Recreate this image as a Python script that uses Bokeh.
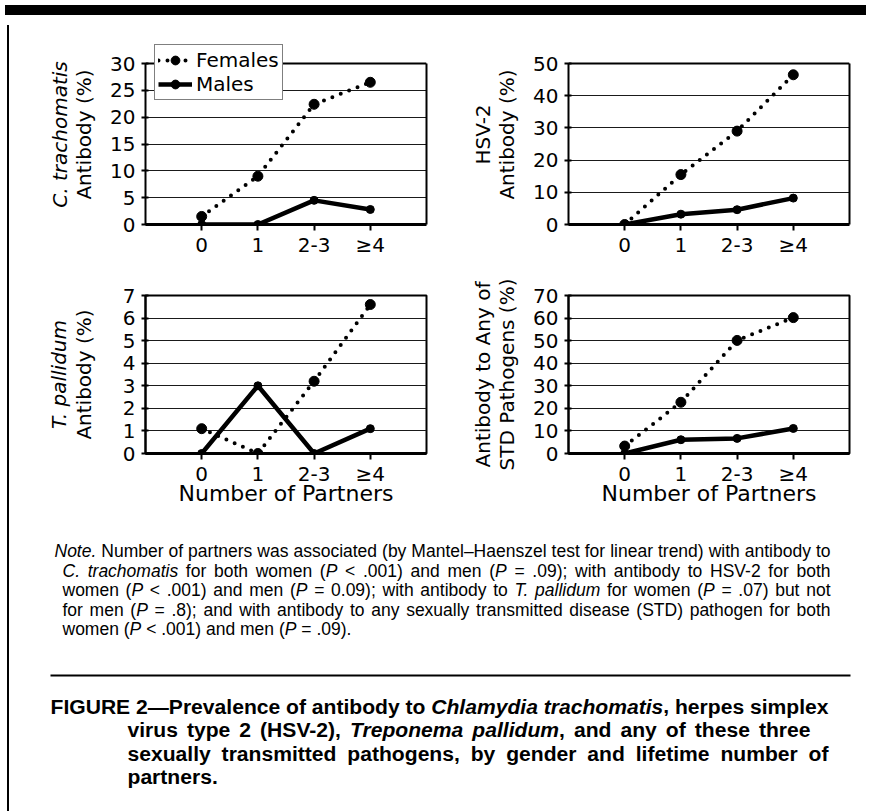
import os
import glob
from bokeh.plotting import figure
from bokeh.models import (Range1d, FactorRange, LinearAxis, FixedTicker, SingleIntervalTicker,
                          Legend, LegendItem, Div, Spacer, ColumnDataSource, Span)
from bokeh.layouts import column, row
from bokeh.core.properties import value
from bokeh.embed import file_html
from bokeh.resources import INLINE

# ---------------- data ----------------
partners = ["0", "1", "2-3", "≥4"]

ct_females = [1.5, 9.0, 22.4, 26.5]
ct_males = [0.0, 0.0, 4.5, 2.8]
hsv_females = [0.0, 15.5, 29.0, 46.5]
hsv_males = [0.0, 3.2, 4.6, 8.2]
tp_females = [1.1, 0.0, 3.2, 6.6]
tp_males = [0.0, 3.0, 0.0, 1.1]
any_females = [3.3, 22.7, 50.1, 60.2]
any_males = [0.0, 6.1, 6.7, 11.1]

ct_ymax, ct_step = 30, 5
hsv_ymax, hsv_step = 50, 10
tp_ymax, tp_step = 7, 1
any_ymax, any_step = 70, 10

legend_labels = ["Females", "Males"]
x_title = "Number of Partners"

note_lines = [
    [("Note.", "italic"),
     (" Number of partners was associated (by Mantel\u2013Haenszel test for linear trend) with antibody to", "normal")],
    [("C. trachomatis", "italic"), (" for both women (", "normal"), ("P", "italic"),
     (" < .001) and men (", "normal"), ("P", "italic"),
     (" = .09); with antibody to HSV-2 for both", "normal")],
    [("women (", "normal"), ("P", "italic"), (" < .001) and men (", "normal"), ("P", "italic"),
     (" = 0.09); with antibody to ", "normal"), ("T. pallidum", "italic"),
     (" for women (", "normal"), ("P", "italic"), (" = .07) but not", "normal")],
    [("for men (", "normal"), ("P", "italic"),
     (" = .8); and with antibody to any sexually transmitted disease (STD) pathogen for both", "normal")],
    [("women (", "normal"), ("P", "italic"), (" < .001) and men (", "normal"), ("P", "italic"),
     (" = .09).", "normal")],
]

caption_lines = [
    [("FIGURE 2\u2014Prevalence of antibody to ", "bold"), ("Chlamydia trachomatis", "bold italic"),
     (", herpes simplex", "bold")],
    [("virus type 2 (HSV-2), ", "bold"), ("Treponema pallidum", "bold italic"),
     (", and any of these three", "bold")],
    [("sexually transmitted pathogens, by gender and lifetime number of", "bold")],
    [("partners.", "bold")],
]

# ---------------- styling constants ----------------
CHART_FONT = "DejaVu Sans"
TEXT_FONT = "Liberation Sans"

# ---------------- text measurement ----------------
FONT_FILES = {
    "normal": "LiberationSans-Regular.ttf",
    "italic": "LiberationSans-Italic.ttf",
    "bold": "LiberationSans-Bold.ttf",
    "bold italic": "LiberationSans-BoldItalic.ttf",
}
_fonts = {}
try:
    from PIL import ImageFont
    for style, fname in FONT_FILES.items():
        path = None
        for base in ["/usr/share/fonts", "/usr/local/share/fonts", os.path.expanduser("~/.fonts")]:
            hits = glob.glob(os.path.join(base, "**", fname), recursive=True)
            if hits:
                path = hits[0]
                break
        if path:
            _fonts[style] = ImageFont.truetype(path, 200)
except Exception:
    _fonts = {}


def text_width(text, style, size):
    f = _fonts.get(style)
    if f is not None:
        return f.getlength(text) * size / 200.0
    factor = 0.55 if "bold" in style else 0.5
    return len(text) * size * factor


def natural_width(segs, size=1.0):
    return sum(text_width(t, s, size) for t, s in segs)


def words_of(segs):
    """Split styled runs into words; a word is a list of [text, style] runs."""
    words, cur = [], []
    for text, style in segs:
        for ch in text:
            if ch == " ":
                if cur:
                    words.append(cur)
                    cur = []
            elif cur and cur[-1][1] == style:
                cur[-1][0] += ch
            else:
                cur.append([ch, style])
    if cur:
        words.append(cur)
    return words


def layout_line(segs, x0, y, size, x1=None):
    """Place a line of styled runs; if x1 is given, spread the words to end at x1."""
    ws = words_of(segs)
    wwidths = [sum(text_width(t, s, size) for t, s in w) for w in ws]
    space = text_width(" ", segs[0][1], size)
    if x1 is not None and len(ws) > 1:
        gap = (x1 - x0 - sum(wwidths)) / (len(ws) - 1)
    else:
        gap = space
    out = []
    x = x0
    for w, ww in zip(ws, wwidths):
        xx = x
        for t, s in w:
            out.append((xx, y, t, s))
            xx += text_width(t, s, size)
        x += ww + gap
    return out


def blank_axis(**kw):
    return LinearAxis(ticker=FixedTicker(ticks=[]), major_tick_out=0, major_tick_in=0,
                      minor_tick_out=0, minor_tick_in=0, major_label_standoff=0, **kw)


# ---------------- panels ----------------
def panel(fem, mal, ymax, ystep, outer, outer_style, inner, xlabel,
          width, height, bl, br, bt, bb, inner_standoff, frame_h, room=0):
    y_end = ymax * (frame_h + room) / frame_h if room else ymax
    p = figure(width=width, height=height,
               x_range=FactorRange(factors=partners, range_padding=0.5, range_padding_units="absolute"),
               y_range=Range1d(0, y_end), output_backend="svg", toolbar_location=None, tools="",
               min_border_left=bl, min_border_right=br, min_border_top=bt - room, min_border_bottom=bb,
               background_fill_color="white", border_fill_color="white")
    p.xgrid.grid_line_color = None
    yt = SingleIntervalTicker(interval=ystep, num_minor_ticks=0)
    p.ygrid.ticker = yt
    p.ygrid.grid_line_color = "#1a1a1a"
    p.ygrid.grid_line_width = 1.2

    ya = p.yaxis[0]
    ya.ticker = yt
    ya.axis_label = inner
    ya.axis_label_text_font = CHART_FONT
    ya.axis_label_text_font_size = "20px"
    ya.axis_label_text_font_style = "normal"
    ya.axis_label_text_color = "black"
    ya.axis_label_standoff = inner_standoff
    ya.major_label_text_font = CHART_FONT
    ya.major_label_text_font_size = "20px"
    ya.major_label_text_color = "black"
    ya.major_label_standoff = 6
    ya.major_tick_out = 4
    ya.major_tick_in = 3
    ya.major_tick_line_width = 2
    ya.major_tick_line_color = "black"
    ya.minor_tick_line_color = None
    ya.axis_line_width = 2
    ya.axis_line_color = "black"

    if room:
        # frame is taller than the data area so that the legend can sit over its top edge
        p.outline_line_color = None
        ya.bounds = (0, ymax)
        right_ax = blank_axis(bounds=(0, ymax), axis_line_width=2, axis_line_color="black",
                              axis_label_standoff=0)
        p.add_layout(right_ax, "right")
        p.add_layout(Span(location=ymax, dimension="width", line_width=2, line_color="black"))
    else:
        p.outline_line_color = "black"
        p.outline_line_width = 2

    xa = p.xaxis[0]
    xa.axis_line_width = 3
    xa.axis_line_color = "black"
    xa.major_tick_out = 6
    xa.major_tick_in = 0
    xa.major_tick_line_width = 2
    xa.major_tick_line_color = "black"
    xa.major_label_text_font = CHART_FONT
    xa.major_label_text_font_size = "20px"
    xa.major_label_text_color = "black"
    xa.major_label_standoff = 2
    if xlabel:
        xa.axis_label = xlabel
        xa.axis_label_text_font = CHART_FONT
        xa.axis_label_text_font_size = "22px"
        xa.axis_label_text_font_style = "normal"
        xa.axis_label_text_color = "black"
        xa.axis_label_standoff = -8

    ax2 = blank_axis(axis_label=outer, axis_line_color=None, axis_label_standoff=-2,
                     axis_label_text_font=CHART_FONT, axis_label_text_font_size="20px",
                     axis_label_text_font_style=outer_style, axis_label_text_color="black")
    p.add_layout(ax2, "left")

    src = ColumnDataSource(data=dict(x=partners, f=fem, m=mal))
    fl = p.line(x="x", y="f", source=src, line_color="black", line_width=4,
                line_dash="0 9", line_cap="round")
    fs = p.scatter(x="x", y="f", source=src, size=10, color="black")
    ml = p.line(x="x", y="m", source=src, line_color="black", line_width=4.5, line_join="round")
    ms = p.scatter(x="x", y="m", source=src, size=8, color="black")
    return p, (fl, fs, ml, ms)


p1, r1 = panel(ct_females, ct_males, ct_ymax, ct_step, "C. trachomatis", "italic", "Antibody (%)", None,
               428, 247, 131, 16, 43, 43, 11, 161, room=19)
p2, r2 = panel(hsv_females, hsv_males, hsv_ymax, hsv_step, "HSV-2", "normal", "Antibody (%)", None,
               429, 247, 126, 22, 43, 43, 11, 161, room=19)
p3, r3 = panel(tp_females, tp_males, tp_ymax, tp_step, "T. pallidum", "italic", "Antibody (%)", x_title,
               428, 255, 131, 16, 28, 69, 24, 158)
p4, r4 = panel(any_females, any_males, any_ymax, any_step, "Antibody to Any of", "normal", "STD Pathogens (%)",
               x_title, 429, 255, 126, 22, 28, 69, 11, 158)

legend = Legend(items=[LegendItem(label=legend_labels[0], renderers=[r1[0], r1[1]]),
                       LegendItem(label=legend_labels[1], renderers=[r1[2], r1[3]])],
                location=(9, 124), orientation="vertical",
                label_text_font=CHART_FONT, label_text_font_size="20px", label_text_color="black",
                glyph_width=34, glyph_height=22, label_standoff=4, padding=3, spacing=0, margin=0,
                border_line_color="black", border_line_width=1.5,
                background_fill_color="white", background_fill_alpha=1.0)
p1.add_layout(legend, "center")

# ---------------- text block ----------------
note_size = round(776.0 / natural_width(note_lines[0]), 1)
cap_size = round(778.0 / natural_width(caption_lines[0]), 1)

note_x0 = [52, 60, 60, 60, 60]
note_x1 = [828, 828, 828, 828, None]
note_y = [548.5, 568.1, 587.7, 607.3, 626.9]
cap_x0 = [48, 125, 125, 125]
cap_x1 = [826, 808, 826, None]
cap_y = [703.5, 727, 750.5, 774]

note_rows = []
for segs, x0, x1, y in zip(note_lines, note_x0, note_x1, note_y):
    note_rows += layout_line(segs, x0, y, note_size, x1)
cap_rows = []
for segs, x0, x1, y in zip(caption_lines, cap_x0, cap_x1, cap_y):
    cap_rows += layout_line(segs, x0, y, cap_size, x1)

pt = figure(width=857, height=284, x_range=Range1d(12, 869), y_range=Range1d(804, 520),
            output_backend="svg", toolbar_location=None, tools="", min_border=0,
            x_axis_location=None, y_axis_location=None, outline_line_color=None,
            background_fill_color="white", border_fill_color="white")
pt.xgrid.visible = False
pt.ygrid.visible = False

note_src = ColumnDataSource(data=dict(x=[r[0] for r in note_rows], y=[r[1] for r in note_rows],
                                      text=[r[2] for r in note_rows], style=[r[3] for r in note_rows]))
pt.text(x="x", y="y", text="text", text_font_style="style", source=note_src,
        text_font=value(TEXT_FONT), text_font_size=value(f"{note_size}px"),
        text_baseline="middle", text_align="left", text_color="black")

cap_src = ColumnDataSource(data=dict(x=[r[0] for r in cap_rows], y=[r[1] for r in cap_rows],
                                     text=[r[2] for r in cap_rows], style=[r[3] for r in cap_rows]))
pt.text(x="x", y="y", text="text", text_font_style="style", source=cap_src,
        text_font=value(TEXT_FONT), text_font_size=value(f"{cap_size}px"),
        text_baseline="middle", text_align="left", text_color="black")

rule_x = [48, 848]
rule_y = 673
pt.segment(x0=[rule_x[0]], y0=[rule_y], x1=[rule_x[1]], y1=[rule_y], line_width=2, line_color="black")

# ---------------- page frame ----------------
bar = Div(text="", width=861, height=10, styles={"background-color": "black"})
gap = Spacer(width=2, height=786)
vline = Div(text="", width=2, height=786, styles={"background-color": "black"})
charts = column(row(p1, p2), row(p3, p4), pt)
page = column(bar, row(gap, vline, charts))

open("out.html", "w").write(file_html(page, INLINE))
